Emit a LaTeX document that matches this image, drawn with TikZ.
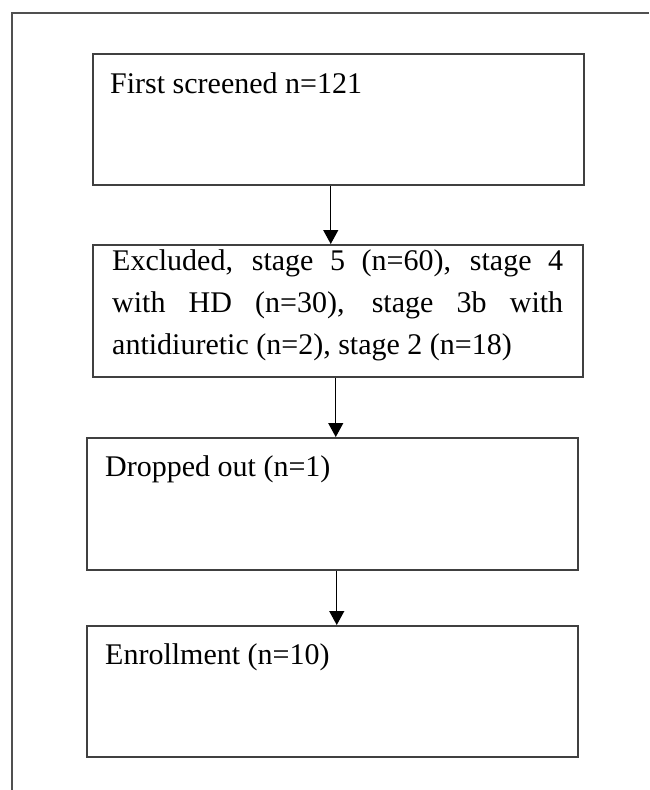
\documentclass[tikz,border=0pt]{standalone}
\usepackage{fontspec}
\setmainfont{Liberation Serif}
\usepackage{xcolor}
\usepackage{tikz}
\usetikzlibrary{positioning}
\usetikzlibrary{calc}
\usetikzlibrary{arrows.meta}

\definecolor{boxgray}{HTML}{404040}
\definecolor{framegray}{HTML}{505050}

\tikzset{
	flowbox/.style={draw=boxgray, line width=1.5pt, anchor=north west, inner sep=0pt, minimum width=491pt, minimum height=131pt},
	boxtext/.style={inner sep=0pt, font=\fontsize{30}{42}\selectfont},
	flowarrow/.style={-{Triangle[width=15pt,length=14pt]}, line width=1.2pt, black}
}

\begin{document}
\begin{tikzpicture}[x=1pt, y=-1pt]
		\useasboundingbox (0,0) rectangle (649,790);
		% outer frame
		\draw[framegray, line width=1.2pt] (12,790) -- (12,13) -- (649,13);
		% First screened
		\node[flowbox] (screen) at (92,53) {};
		\node[boxtext, anchor=base west] (screentxt) at ($(screen.north west)+(18,40)$) {First screened n=121};
		% Excluded
		\node[flowbox, minimum width=490pt, minimum height=132pt] (excl) at (92,244) {};
		\node[boxtext, anchor=north west, text width=451pt, align=justify] (excltxt) at ($(excl.north west)+(20,5)$)
			{Excluded, stage 5 (n=60), stage 4\linebreak with HD (n=30), stage 3b with\linebreak antidiuretic (n=2), stage 2 (n=18)};
		% Dropped out
		\node[flowbox, minimum height=132pt] (drop) at (86,437) {};
		\node[boxtext, anchor=base west] (droptxt) at ($(drop.north west)+(19,39)$) {Dropped out (n=1)};
		% Enrollment
		\node[flowbox] (enrol) at (86,625) {};
		\node[boxtext, anchor=base west] (enroltxt) at ($(enrol.north west)+(19,39)$) {Enrollment (n=10)};
		% arrows
		\draw[flowarrow] ([xshift=-7.5pt]screen.south) -- ([xshift=-7.5pt]screen.south |- excl.north);
		\draw[flowarrow] ([xshift=-2pt]excl.south) -- ([xshift=-2pt]excl.south |- drop.north);
		\draw[flowarrow] ([xshift=4.5pt]drop.south) -- ([xshift=4.5pt]drop.south |- enrol.north);
	\end{tikzpicture}
\end{document}
